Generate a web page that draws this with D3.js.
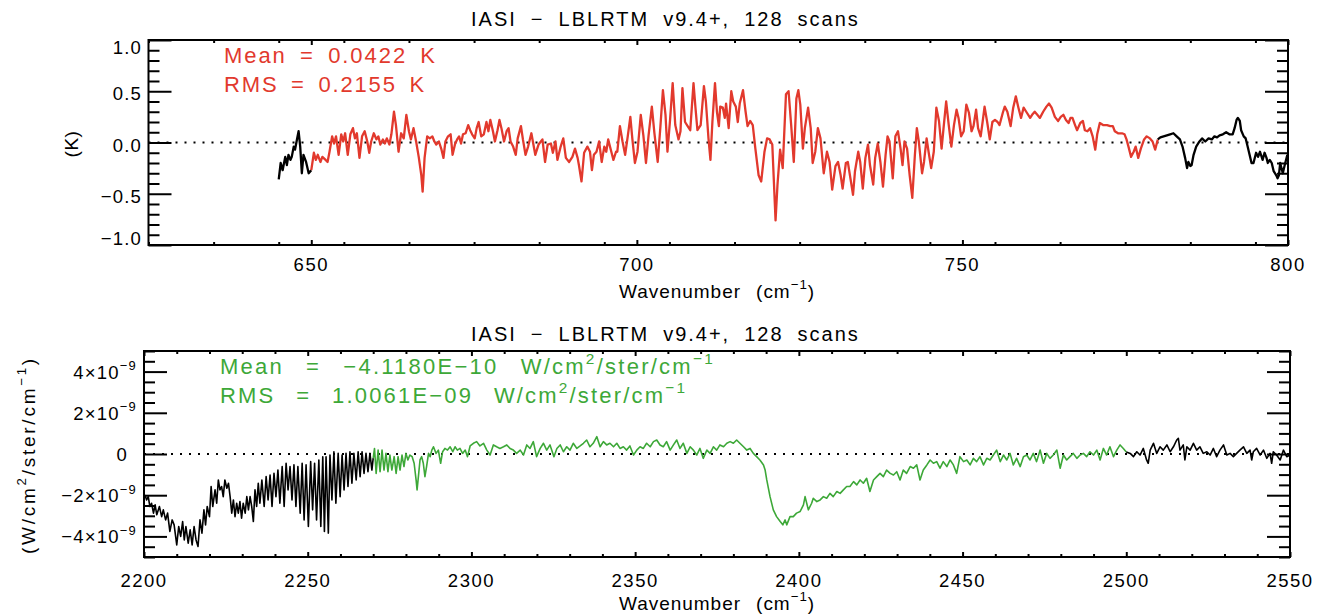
<!DOCTYPE html>
<html>
<head>
<meta charset="utf-8">
<script src="https://cdn.jsdelivr.net/npm/d3@7"></script>
<style>
  body { margin: 0; background: #fff; }
  text { font-family: "Liberation Sans", Arial, sans-serif; fill: #000; }
</style>
</head>
<body>
<svg id="chart" width="1327" height="615"></svg>
<script>
// ---- data: [wavenumber (cm-1), IASI - LBLRTM] ----
// top panel, brightness temperature difference (K)
const topLeftBlack = [[645.0,-0.36],[645.3,-0.20],[645.6,-0.27],[646.0,-0.14],[646.25,-0.22],[646.5,-0.12],[646.8,-0.17],[647.0,-0.14],[647.3,-0.04],[647.5,-0.07],[647.8,0.03],[648.05,0.11],[648.3,-0.04],[648.55,-0.30],[648.8,-0.12],[649.2,-0.19],[649.6,-0.30],[650.0,-0.27]];

const topRed = [[650.0,-0.27],[650.4,-0.10],[650.7,-0.17],[651.0,-0.12],[651.4,-0.19],[651.7,-0.14],[652.2,-0.17],[652.5,-0.19],[652.8,-0.09],[653.2,0.06],[653.5,-0.01],[653.8,0.06],[654.2,-0.12],[654.6,0.08],[654.9,0.01],[655.2,0.09],[655.6,-0.12],[656.0,0.08],[656.4,0.14],[656.7,0.04],[657.0,0.09],[657.4,-0.15],[657.8,0.06],[658.2,0.11],[658.6,0.01],[658.9,-0.10],[659.2,0.01],[659.6,0.09],[660.0,0.03],[660.3,0.06],[660.6,-0.02],[661.0,0.03],[661.3,-0.01],[661.6,0.04],[662.0,-0.02],[662.3,0.08],[662.7,0.30],[663.0,0.17],[663.4,-0.09],[663.8,0.09],[664.2,0.04],[664.6,0.27],[665.0,0.11],[665.3,0.03],[665.7,0.14],[666.1,0.01],[666.5,-0.14],[666.9,-0.32],[667.1,-0.48],[667.4,-0.15],[667.8,0.06],[668.2,0.04],[668.6,0.06],[668.9,0.01],[669.2,-0.02],[669.6,0.01],[670.0,-0.07],[670.3,-0.15],[670.6,0.01],[671.0,0.06],[671.4,0.08],[671.7,-0.12],[672.1,-0.01],[672.4,0.03],[672.7,0.06],[673.0,-0.01],[673.3,0.08],[673.7,0.09],[674.1,0.17],[674.4,0.12],[674.7,0.08],[675.1,0.04],[675.4,0.14],[675.7,0.20],[676.1,0.06],[676.5,0.08],[676.9,0.20],[677.2,0.11],[677.5,0.22],[677.9,0.11],[678.2,0.01],[678.6,0.12],[678.9,0.22],[679.2,0.14],[679.6,0.01],[680.0,0.11],[680.3,0.14],[680.6,0.01],[681.0,-0.04],[681.4,-0.12],[681.7,0.04],[682.2,0.16],[682.5,0.03],[682.9,-0.12],
  [683.3,-0.04],[683.8,0.09],[684.4,-0.12],[684.9,-0.02],[685.5,0.03],[685.9,-0.19],[686.3,-0.02],[686.8,-0.01],[687.1,-0.10],[687.5,0.01],[687.8,-0.17],[688.3,-0.04],[688.7,0.04],[689.1,-0.15],[689.6,-0.19],[690.1,-0.14],[690.5,-0.06],[690.9,-0.15],[691.1,-0.22],[691.5,-0.38],[691.9,-0.10],[692.4,-0.04],[692.8,-0.09],[693.1,-0.27],[693.4,-0.12],[693.8,-0.09],[694.2,0.01],[694.6,-0.19],[695.0,-0.04],[695.3,-0.09],[695.6,0.03],[696.0,-0.07],[696.4,-0.17],[696.8,-0.09],[697.0,-0.09],[697.4,0.16],[697.8,0.01],[698.2,-0.12],[698.6,0.06],[699.0,0.25],[699.3,0.04],[699.7,-0.20],[700.1,-0.09],[700.6,0.27],[701.0,0.07],[701.4,-0.20],[701.8,0.07],[702.3,0.35],[702.7,0.09],[703.2,-0.19],[703.6,0.14],[704.0,0.51],[704.4,0.27],[704.7,-0.09],[705.1,0.22],[705.5,0.58],[705.9,0.17],[706.4,0.03],[706.7,0.11],[707.0,0.53],[707.4,0.20],[707.8,0.16],[708.2,0.12],[708.7,0.58],[709.0,0.34],[709.3,0.12],[709.8,0.17],[710.3,0.55],[710.6,0.40],[711.0,0.04],[711.3,-0.17],[711.6,0.20],[712.0,0.58],[712.3,0.30],[712.6,0.16],[712.8,0.35],[713.2,0.34],[713.5,0.24],[713.7,0.38],[714.1,0.14],[714.5,0.50],[714.8,0.40],[715.2,0.35],[715.5,0.20],[715.8,0.38],[716.3,0.51],[716.7,0.30],[717.0,0.16],[717.4,0.21],[717.8,0.17],[718.2,-0.06],[718.7,-0.32],[719.1,-0.38],[719.6,-0.09],[720.0,0.04],[720.4,0.03],[720.8,-0.02],[721.3,-0.76],[721.6,-0.41],[722.0,-0.07],[722.4,-0.25],
  [722.9,0.47],[723.3,0.50],[723.7,0.17],[724.1,-0.19],[724.5,0.43],[724.8,0.51],[725.1,0.37],[725.5,-0.06],[725.8,0.14],[726.3,0.34],[726.7,0.14],[727.0,-0.20],[727.4,-0.09],[727.8,0.14],[728.2,0.04],[728.7,-0.30],[729.2,-0.09],[729.6,-0.19],[730.0,-0.46],[730.5,-0.23],[730.9,-0.19],[731.3,-0.32],[731.6,-0.45],[732.1,-0.20],[732.4,-0.19],[732.8,-0.35],[733.2,-0.51],[733.5,-0.28],[734.0,-0.09],[734.3,-0.19],[734.7,-0.45],[735.1,-0.15],[735.5,-0.02],[735.8,-0.22],[736.3,-0.41],[736.6,-0.15],[737.0,-0.01],[737.4,-0.19],[737.8,-0.43],[738.2,-0.12],[738.5,0.06],[738.8,0.01],[739.3,-0.35],[739.7,0.06],[740.1,0.11],[740.5,-0.06],[740.8,-0.22],[741.1,0.01],[741.5,-0.06],[741.9,-0.32],[742.3,-0.54],[742.7,-0.12],[743.0,0.14],[743.3,0.01],[743.8,-0.30],[744.1,-0.19],[744.5,0.04],[744.8,-0.09],[745.2,-0.25],[745.6,-0.09],[746.0,0.34],[746.4,0.21],[746.8,-0.06],[747.1,0.14],[747.5,0.40],[747.9,0.17],[748.3,-0.04],[748.7,0.17],[749.1,0.32],[749.4,0.24],[749.8,0.06],[750.2,0.11],[750.6,0.37],[751.0,0.29],[751.4,0.11],[751.7,0.16],[752.1,0.32],[752.4,0.14],[752.8,0.06],[753.1,0.20],[753.4,0.35],[753.8,0.20],[754.2,0.03],[754.6,0.20],[755.0,0.22],[755.4,0.20],[755.7,0.17],[756.2,0.29],[756.5,0.35],[756.9,0.30],[757.4,0.16],[757.8,0.34],[758.2,0.45],[758.6,0.34],[759.0,0.24],[759.4,0.34],[759.8,0.30],[760.4,0.24],[760.7,0.27],[761.1,0.30],[761.5,0.27],
  [761.9,0.24],[762.4,0.30],[762.9,0.35],[763.3,0.38],[763.7,0.34],[764.2,0.25],[764.7,0.21],[765.1,0.25],[765.5,0.27],[765.9,0.22],[766.3,0.19],[766.6,0.24],[766.9,0.24],[767.3,0.17],[767.6,0.12],[768.1,0.19],[768.5,0.21],[768.8,0.12],[769.2,0.11],[769.6,0.14],[770.0,0.06],[770.4,-0.07],[770.7,0.08],[771.1,0.19],[771.6,0.17],[772.2,0.17],[772.7,0.16],[773.1,0.16],[773.4,0.11],[773.9,0.09],[774.5,0.09],[774.9,0.08],[775.2,0.03],[775.5,-0.04],[775.9,-0.14],[776.3,-0.09],[776.6,-0.04],[777.0,-0.15],[777.4,-0.06],[777.9,0.03],[778.3,0.06],[778.8,0.04],[779.2,0.01],[779.6,-0.07],[780.0,0.03]];

const topRightBlack = [[780.0,0.03],[780.4,0.05],[780.9,0.06],[781.4,0.07],[781.9,0.08],[782.4,0.09],[782.9,0.06],[783.4,0.03],[783.8,-0.04],[784.2,-0.15],[784.5,-0.25],[784.7,-0.19],[785.0,-0.23],[785.2,-0.22],[785.5,-0.12],[785.9,-0.04],[786.4,0.01],[786.8,0.04],[787.3,0.01],[787.8,0.04],[788.3,0.03],[788.7,0.06],[789.1,0.05],[789.5,0.07],[790.0,0.08],[790.5,0.10],[791.0,0.08],[791.5,0.08],[791.8,0.14],[792.1,0.22],[792.3,0.24],[792.6,0.21],[792.8,0.12],[793.2,0.06],[793.5,0.04],[793.8,-0.04],[794.1,-0.12],[794.4,-0.20],[794.7,-0.20],[795.1,-0.10],[795.4,-0.14],[795.7,-0.09],[796.1,-0.17],[796.4,-0.10],[796.7,-0.15],[796.9,-0.20],[797.2,-0.17],[797.5,-0.20],[797.8,-0.28],[798.2,-0.32],[798.4,-0.35],[798.6,-0.32],[798.8,-0.20],[799.2,-0.30],[799.5,-0.22],[799.9,-0.12]];

// bottom panel, radiance difference in units of 1e-9 W/cm2/ster/cm-1
const botLeftBlack = [[2200.3,-1.99],[2200.8,-2.23],[2201.3,-2.07],[2201.8,-2.55],[2202.3,-2.39],[2202.9,-2.87],[2203.4,-2.47],[2203.9,-2.95],[2204.7,-2.55],[2205.4,-3.04],[2205.9,-2.71],[2206.6,-3.20],[2207.2,-2.87],[2207.9,-3.76],[2208.6,-3.20],[2209.2,-3.44],[2210.0,-4.41],[2210.6,-3.52],[2211.2,-4.00],[2211.8,-3.28],[2212.3,-4.17],[2212.8,-3.52],[2213.5,-4.33],[2214.1,-3.68],[2214.7,-4.41],[2215.3,-3.52],[2215.9,-4.17],[2216.5,-4.49],[2217.1,-3.20],[2217.7,-3.84],[2218.3,-2.71],[2218.8,-3.44],[2219.3,-2.55],[2220.0,-3.04],[2220.5,-1.58],[2221.0,-2.55],[2221.7,-1.74],[2222.2,-2.39],[2222.7,-1.26],[2223.2,-1.74],[2223.7,-1.58],[2224.2,-2.07],[2224.7,-1.26],[2225.3,-1.66],[2225.8,-1.42],[2226.3,-2.07],[2226.8,-2.87],[2227.3,-2.23],[2227.8,-3.04],[2228.3,-2.39],[2228.8,-2.87],[2229.3,-2.31],[2229.8,-3.12],[2230.3,-2.39],[2230.9,-2.87],[2231.4,-2.07],[2231.9,-2.71],[2232.4,-2.07],[2232.9,-2.55],[2233.4,-3.28],[2233.9,-1.74],[2234.4,-2.55],[2234.9,-1.42],[2235.4,-2.39],[2236.0,-1.26],[2236.7,-2.55],[2237.3,-1.10],[2237.9,-2.23],[2238.5,-1.02],[2239.1,-2.55],[2239.7,-0.94],[2240.3,-2.07],[2240.9,-0.78],[2241.5,-2.39],[2242.2,-0.61],[2242.8,-2.55],[2243.4,-0.45],[2244.0,-1.74],[2244.6,-0.61],[2245.2,-2.23],[2245.8,-0.53],[2246.4,-2.55],[2247.0,-0.61],[2247.7,-2.87],[2248.3,-0.45],[2248.9,-3.20],[2249.5,-0.53],[2250.2,-3.52],[2250.9,-0.37],[2251.5,-2.71],[2252.1,-0.45],[2252.7,-3.20],[2253.4,-0.29],[2254.0,-3.52],[2254.6,-0.13],[2255.1,-3.76],[2255.6,-0.13],[2256.3,-3.84],[2256.8,-0.05],[2257.4,-2.23],[2258.0,0.11],[2258.6,-2.39],[2259.3,0.03],[2259.9,-2.07],[2260.5,-0.05],[2261.1,-1.74],[2261.7,0.03],[2262.3,-1.58],[2262.9,0.11],[2263.5,-1.42],[2264.1,0.03],[2264.8,-1.26],[2265.4,0.11],[2266.0,-1.10],[2266.6,0.11],[2267.2,-0.94],[2267.8,0.03],[2268.4,-0.86],[2269.0,0.03],[2269.6,-0.78],[2270.0,-0.20]];

const botGreen = [[2270.0,-0.20],[2270.4,0.27],[2270.9,-0.94],[2271.5,0.19],[2272.1,-0.86],[2272.7,0.19],[2273.3,-0.78],[2273.9,0.03],[2274.5,-0.86],[2275.1,-0.05],[2275.7,-0.78],[2276.4,-0.13],[2277.0,-0.94],[2277.6,-0.13],[2278.2,-0.78],[2278.8,-0.05],[2279.4,-0.61],[2280.0,0.03],[2280.6,-0.29],[2281.2,-0.05],[2281.9,-0.13],[2282.5,-0.45],[2283.1,-1.26],[2283.4,-1.74],[2283.9,-0.94],[2284.3,-0.29],
  [2284.8,-0.13],[2285.3,-0.45],[2285.8,-1.10],[2286.3,-0.61],[2286.9,0.03],[2287.4,-0.13],[2287.9,0.19],[2288.4,0.35],[2289.2,0.03],[2289.9,0.19],[2290.6,-0.45],[2291.2,0.11],[2291.9,0.27],[2292.7,0.19],[2293.5,0.35],[2294.3,0.11],[2295.0,0.35],[2295.7,0.19],[2296.5,0.27],[2297.3,0.03],[2298.1,0.19],[2298.8,-0.13],[2299.6,0.39],[2300.6,0.52],[2301.6,0.60],[2302.6,0.39],[2303.7,0.52],[2304.7,0.19],[2305.7,-0.05],[2306.7,0.44],[2307.7,0.35],[2308.7,0.27],[2309.8,0.35],[2310.8,0.44],[2311.8,0.27],[2312.8,0.19],[2313.8,0.03],[2314.9,0.19],[2315.9,-0.05],[2316.9,0.44],[2317.9,0.27],[2318.9,0.60],[2319.9,-0.13],[2321.0,0.27],[2322.0,0.52],[2323.0,0.19],[2324.0,0.44],[2325.2,-0.13],[2326.1,0.27],[2327.1,0.44],[2328.1,0.11],[2329.1,0.35],[2330.1,0.19],[2331.1,0.52],[2332.2,0.27],[2333.2,0.39],[2334.2,0.52],[2335.2,0.68],[2336.2,0.35],[2337.2,0.52],[2338.3,0.84],[2339.3,0.35],[2340.3,0.60],[2341.3,0.44],[2342.3,0.52],[2343.4,0.35],[2344.4,0.52],[2345.4,0.27],[2346.4,0.35],[2347.4,0.19],[2348.4,0.39],[2349.5,-0.05],[2350.5,0.19],[2351.5,0.35],[2352.5,0.27],[2353.5,0.52],[2354.6,0.35],[2355.6,0.60],[2356.6,0.68],[2357.6,0.44],[2358.6,0.35],[2359.6,0.60],[2360.7,0.19],[2361.7,0.44],[2362.7,0.68],[2363.7,0.27],[2364.7,0.52],[2365.8,0.03],[2366.8,0.35],[2367.8,0.19],[2368.8,-0.05],[2369.8,0.27],[2370.8,-0.21],[2371.9,0.19],[2372.9,0.03],[2373.9,0.35],[2374.9,0.19],[2375.9,0.44],[2377.0,0.35],[2378.0,0.52],[2379.0,0.60],[2380.0,0.52],[2381.0,0.68],[2382.0,0.52],[2383.1,0.35],[2384.1,0.19],[2385.1,0.27],[2386.1,0.03],[2387.1,-0.13],[2388.1,-0.29],[2389.2,-0.53],[2389.7,-0.78],[2390.2,-1.26],[2391.2,-2.07],[2392.2,-2.71],[2393.2,-3.04],[2394.3,-3.28],[2395.1,-3.44],[2395.8,-3.20],[2396.3,-3.44],[2397.3,-3.04],[2398.3,-3.04],[2399.3,-2.87],[2400.4,-2.79],[2401.4,-2.47],[2401.9,-2.07],[2402.4,-2.39],[2402.9,-2.71],[2403.9,-2.39],[2404.4,-2.15],[2405.5,-2.31],[2406.5,-2.23],[2407.5,-2.07],[2408.5,-2.15],[2409.5,-1.91],[2410.5,-2.07],[2411.6,-1.82],[2412.6,-1.91],[2413.6,-1.74],[2414.6,-1.58],[2415.6,-1.58],[2416.7,-1.34],[2417.7,-1.50],[2418.7,-1.26],
  [2419.7,-1.42],[2420.7,-1.18],[2421.7,-1.82],[2422.8,-1.26],[2423.8,-1.10],[2424.8,-0.94],[2425.8,-1.10],[2426.8,-0.78],[2427.9,-0.94],[2428.9,-1.02],[2429.9,-0.86],[2430.9,-1.26],[2431.9,-0.78],[2432.9,-0.94],[2434.0,-0.61],[2435.0,-0.69],[2436.0,-0.53],[2437.0,-1.26],[2438.0,-0.78],[2439.1,-0.53],[2440.1,-0.29],[2441.1,-0.45],[2442.1,-0.37],[2443.1,-0.69],[2444.1,-0.37],[2445.2,-0.61],[2446.2,-0.29],[2447.2,-0.53],[2448.2,-0.94],[2449.2,-0.13],[2450.3,-0.37],[2451.3,-0.29],[2452.3,-0.53],[2453.3,-0.21],[2454.3,-0.37],[2455.3,-0.13],[2456.4,-0.53],[2457.4,-0.21],[2458.4,-0.29],[2459.4,-0.05],[2460.4,0.19],[2461.5,-0.37],[2462.5,-0.05],[2463.5,-0.29],[2464.5,0.03],[2465.5,-0.53],[2466.5,-0.21],[2467.6,-0.61],[2468.6,-0.13],[2469.6,-0.05],[2470.6,-0.29],[2471.6,0.03],[2472.6,-0.37],[2473.7,0.19],[2474.7,-0.45],[2475.7,0.03],[2476.7,-0.21],[2477.7,-0.05],[2478.8,0.19],[2479.8,-0.69],[2480.8,-0.05],[2481.8,-0.29],[2482.8,-0.13],[2483.8,0.03],[2484.9,-0.21],[2485.9,-0.05],[2486.9,0.03],[2487.9,-0.13],[2488.9,0.11],[2490.0,-0.05],[2491.0,0.19],[2492.0,-0.29],[2493.0,0.27],[2494.0,-0.05],[2495.0,0.35],[2496.1,-0.13],[2497.1,0.19],[2498.1,0.44],[2499.1,0.27],[2500.0,0.10]];

const botRightBlack = [[2500.0,0.10],[2501.2,0.03],[2502.2,-0.13],[2503.2,0.11],[2504.2,-0.05],[2505.2,0.27],[2506.2,-0.29],[2506.7,-0.45],[2507.3,0.19],[2508.3,0.52],[2509.3,0.03],[2510.3,0.35],[2511.3,0.19],[2512.4,0.44],[2513.4,0.11],[2514.4,0.35],[2515.4,0.68],[2515.9,0.76],[2516.4,0.19],[2517.4,0.44],[2517.9,-0.29],[2518.5,0.35],[2519.5,0.19],[2520.5,0.52],[2521.5,0.19],[2522.5,0.35],[2523.5,0.03],[2524.6,0.11],[2525.6,-0.05],[2526.6,0.27],[2527.6,-0.13],[2528.6,0.19],[2529.7,0.44],[2530.7,-0.05],[2531.7,0.03],[2532.7,-0.13],[2533.7,0.03],[2534.7,0.19],[2535.8,0.35],[2536.8,0.03],[2537.8,0.19],[2538.3,-0.29],[2538.8,0.11],[2539.8,0.27],[2540.9,-0.05],[2541.9,0.19],[2542.9,-0.21],[2543.9,0.03],[2544.4,-0.45],[2544.9,0.11],[2545.9,-0.05],[2547.0,-0.29],[2548.0,0.19],[2549.0,-0.13],[2550.0,-0.05]];

// tick values
const topXMajor = [650, 700, 750, 800];
const topYMajor = [-1, -0.5, 0, 0.5, 1];
const botXMajor = [2200, 2250, 2300, 2350, 2400, 2450, 2500, 2550];
const botYMajor = [-4, -2, 0, 2, 4];

const RED = '#e2392d', GREEN = '#3da838';
const svg = d3.select('#chart');

// IDL vector fonts are wide: share the extra width between letter and word gaps
function fitWidth(t, w) {
  const str = t.text();
  const extra = w - t.node().getComputedTextLength();
  const spaces = (str.match(/ /g) || []).length;
  const wordShare = spaces ? 0.35 : 0;
  t.attr('letter-spacing', (extra * (1 - wordShare) / str.length).toFixed(2));
  if (spaces) t.attr('word-spacing', (extra * wordShare / spaces).toFixed(2));
}

// append text made of [string, isSuperscript] parts
function richText(parent, parts, size) {
  const t = parent.append('text').attr('font-size', size);
  let up = false;
  parts.forEach(([s, sup]) => {
    const sp = t.append('tspan').text(s);
    if (sup) {
      sp.attr('font-size', size * 0.7);
      if (!up) { sp.attr('dy', -0.45 * size); up = true; }
    } else if (up) {
      sp.attr('dy', 0.45 * size); up = false;
    }
  });
  return t;
}

function drawPanel(p) {
  const g = svg.append('g');
  const x = d3.scaleLinear().domain(p.xDomain).range([p.left, p.right]);
  const y = d3.scaleLinear().domain(p.yDomain).range([p.bottom, p.top]);

  g.append('clipPath').attr('id', p.id + '-clip')
    .append('rect')
      .attr('x', p.left).attr('y', p.top)
      .attr('width', p.right - p.left).attr('height', p.bottom - p.top);

  // dotted zero line
  g.append('line')
    .attr('x1', p.left).attr('x2', p.right)
    .attr('y1', y(0)).attr('y2', y(0))
    .attr('stroke', '#000').attr('stroke-width', 2.2)
    .attr('stroke-dasharray', '2,7');

  const line = d3.line().x(d => x(d[0])).y(d => y(d[1]));
  p.series.forEach(s => {
    g.append('path')
      .datum(s.data)
      .attr('d', line)
      .attr('fill', 'none')
      .attr('stroke', s.color)
      .attr('stroke-width', p.lineWidth)
      .attr('stroke-linejoin', 'round')
      .attr('clip-path', `url(#${p.id}-clip)`);
  });

  // inward ticks on all four sides
  const xMinor = d3.range(p.xDomain[0], p.xDomain[1] + 1, 10).filter(v => !p.xMajor.includes(v));
  const yMinor = d3.range(p.yDomain[0], p.yDomain[1] + 1e-9, p.yMinorStep)
    .map(v => +v.toFixed(3)).filter(v => !p.yMajor.includes(v));
  const ax = (fn, scale, vals, size, tx, ty) => g.append('g')
    .attr('transform', `translate(${tx},${ty})`)
    .call(fn(scale).tickValues(vals).tickSize(size).tickFormat(''))
    .call(a => a.select('.domain').remove())
    .call(a => a.selectAll('text').remove())
    .call(a => a.selectAll('line').attr('stroke-width', 2));
  ax(d3.axisBottom, x, xMinor, -3, 0, p.bottom);
  ax(d3.axisBottom, x, p.xMajor, -5, 0, p.bottom);
  ax(d3.axisTop, x, xMinor, -3, 0, p.top);
  ax(d3.axisTop, x, p.xMajor, -5, 0, p.top);
  ax(d3.axisLeft, y, yMinor, -11, p.left, 0);
  ax(d3.axisLeft, y, p.yMajor, -23, p.left, 0);
  ax(d3.axisRight, y, yMinor, -11, p.right, 0);
  ax(d3.axisRight, y, p.yMajor, -23, p.right, 0);

  g.append('rect')
    .attr('x', p.left).attr('y', p.top)
    .attr('width', p.right - p.left).attr('height', p.bottom - p.top)
    .attr('fill', 'none').attr('stroke', '#000').attr('stroke-width', 2);

  // x tick labels
  g.append('g').selectAll('text')
    .data(p.xMajor)
    .join('text')
      .attr('x', d => x(d))
      .attr('y', p.xLabelY)
      .attr('text-anchor', 'middle')
      .attr('font-size', 18.5)
      .attr('letter-spacing', 1.5)
      .text(d => d);

  // y tick labels
  p.yMajor.forEach(v => {
    richText(g, p.yFormat(v), 18.5)
      .attr('text-anchor', 'end')
      .attr('letter-spacing', 1.2)
      .attr('x', p.yLabelX + (v === 0 ? p.zeroShift : 0))
      .attr('y', Math.max(p.top + 14, Math.min(p.bottom, y(v) + p.yLabelDy)));
  });

  // title, axis labels
  const title = g.append('text').attr('x', p.titleX).attr('y', p.titleY)
    .attr('font-size', 20).text(p.title);
  fitWidth(title, p.titleW);

  const xl = richText(g, [['Wavenumber (cm', 0], ['−1', 1], [')', 0]], 19)
    .attr('x', p.xTitleX).attr('y', p.xTitleY);
  fitWidth(xl, p.xTitleW);

  const yl = richText(g, p.yTitle, 19)
    .attr('transform', `translate(${p.yTitlePos[0]},${p.yTitlePos[1]}) rotate(-90)`)
    .attr('x', -p.yTitleW / 2);
  fitWidth(yl, p.yTitleW);

  // statistics
  p.notes.forEach(n => {
    const t = richText(g, n.parts, 22)
      .attr('x', n.x).attr('y', n.y)
      .style('fill', p.noteColor);
    t.selectAll('tspan').style('fill', p.noteColor);
    fitWidth(t, n.w);
  });
}

drawPanel({
  id: 'top',
  left: 148.5, right: 1288, top: 40, bottom: 245,
  xDomain: [625, 800], yDomain: [-1, 1],
  xMajor: topXMajor, yMajor: topYMajor, yMinorStep: 0.1,
  lineWidth: 2.3,
  series: [
    { data: topLeftBlack, color: '#000' },
    { data: topRed, color: RED },
    { data: topRightBlack, color: '#000' }
  ],
  xLabelY: 271,
  yLabelX: 142, yLabelDy: 9, zeroShift: 0,
  yFormat: v => [[d3.format('.1f')(v), 0]],
  title: 'IASI − LBLRTM v9.4+, 128 scans', titleX: 471, titleY: 26, titleW: 389,
  xTitleX: 619, xTitleY: 298, xTitleW: 196,
  yTitle: [['(K)', 0]], yTitlePos: [78, 144], yTitleW: 27,
  noteColor: RED,
  notes: [
    { parts: [['Mean = 0.0422 K', 0]], x: 224, y: 63, w: 213 },
    { parts: [['RMS = 0.2155 K', 0]], x: 224, y: 92, w: 202 }
  ]
});

drawPanel({
  id: 'bot',
  left: 144, right: 1290, top: 351, bottom: 557,
  xDomain: [2200, 2550], yDomain: [-5, 5],
  xMajor: botXMajor, yMajor: botYMajor, yMinorStep: 0.5,
  lineWidth: 1.6,
  series: [
    { data: botLeftBlack, color: '#000' },
    { data: botGreen, color: GREEN },
    { data: botRightBlack, color: '#000' }
  ],
  xLabelY: 587,
  yLabelX: 137, yLabelDy: 7, zeroShift: -9,
  yFormat: v => v === 0 ? [['0', 0]] : [[(v < 0 ? '−' : '') + Math.abs(v) + '×10', 0], ['−9', 1]],
  title: 'IASI − LBLRTM v9.4+, 128 scans', titleX: 471, titleY: 341, titleW: 389,
  xTitleX: 619, xTitleY: 610, xTitleW: 196,
  yTitle: [['(W/cm', 0], ['2', 1], ['/ster/cm', 0], ['−1', 1], [')', 0]],
  yTitlePos: [35, 455], yTitleW: 198,
  noteColor: GREEN,
  notes: [
    { parts: [['Mean = −4.1180E−10 W/cm', 0], ['2', 1], ['/ster/cm', 0], ['−1', 1]], x: 220, y: 374, w: 495 },
    { parts: [['RMS = 1.0061E−09 W/cm', 0], ['2', 1], ['/ster/cm', 0], ['−1', 1]], x: 220, y: 403, w: 467 }
  ]
});
</script>
</body>
</html>
